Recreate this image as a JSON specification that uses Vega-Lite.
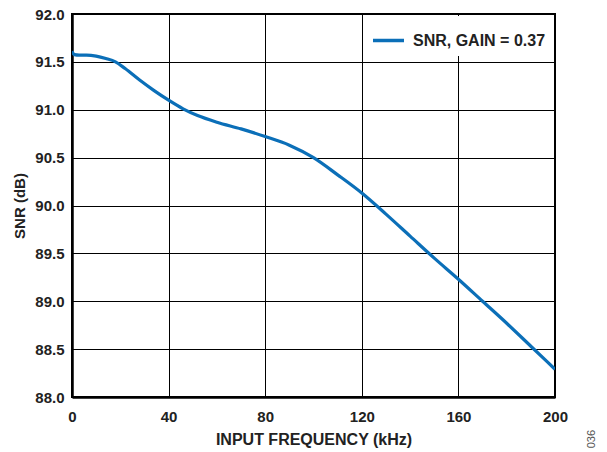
{
  "$schema": "https://vega.github.io/schema/vega-lite/v6.json",
  "width": 483,
  "height": 383,
  "autosize": {"type": "none"},
  "padding": {"left": 72, "top": 14, "right": 52, "bottom": 55},
  "background": "white",
  "config": {
    "font": "Liberation Sans",
    "view": {"stroke": "#000000", "strokeWidth": 2},
    "axis": {
      "labelFont": "Liberation Sans",
      "labelFontWeight": "bold",
      "labelFontSize": 15,
      "labelColor": "#222222",
      "titleFont": "Liberation Sans",
      "titleFontWeight": "bold",
      "titleColor": "#222222",
      "gridColor": "#000000",
      "gridOpacity": 1,
      "gridWidth": 1,
      "domainColor": "#000000",
      "domainWidth": 2.5,
      "ticks": false
    }
  },
  "data": {
    "values": [
      {"f": 0, "snr": 91.61, "s": "SNR, GAIN = 0.37"},
      {"f": 1, "snr": 91.575, "s": "SNR, GAIN = 0.37"},
      {"f": 3, "snr": 91.57, "s": "SNR, GAIN = 0.37"},
      {"f": 6, "snr": 91.57, "s": "SNR, GAIN = 0.37"},
      {"f": 10, "snr": 91.56, "s": "SNR, GAIN = 0.37"},
      {"f": 14, "snr": 91.535, "s": "SNR, GAIN = 0.37"},
      {"f": 18, "snr": 91.5, "s": "SNR, GAIN = 0.37"},
      {"f": 22, "snr": 91.43, "s": "SNR, GAIN = 0.37"},
      {"f": 28, "snr": 91.31, "s": "SNR, GAIN = 0.37"},
      {"f": 34, "snr": 91.2, "s": "SNR, GAIN = 0.37"},
      {"f": 40, "snr": 91.1, "s": "SNR, GAIN = 0.37"},
      {"f": 46, "snr": 91.01, "s": "SNR, GAIN = 0.37"},
      {"f": 52, "snr": 90.94, "s": "SNR, GAIN = 0.37"},
      {"f": 60, "snr": 90.87, "s": "SNR, GAIN = 0.37"},
      {"f": 70, "snr": 90.8, "s": "SNR, GAIN = 0.37"},
      {"f": 80, "snr": 90.72, "s": "SNR, GAIN = 0.37"},
      {"f": 90, "snr": 90.63, "s": "SNR, GAIN = 0.37"},
      {"f": 100, "snr": 90.5, "s": "SNR, GAIN = 0.37"},
      {"f": 110, "snr": 90.32, "s": "SNR, GAIN = 0.37"},
      {"f": 120, "snr": 90.13, "s": "SNR, GAIN = 0.37"},
      {"f": 130, "snr": 89.91, "s": "SNR, GAIN = 0.37"},
      {"f": 140, "snr": 89.68, "s": "SNR, GAIN = 0.37"},
      {"f": 150, "snr": 89.45, "s": "SNR, GAIN = 0.37"},
      {"f": 160, "snr": 89.23, "s": "SNR, GAIN = 0.37"},
      {"f": 170, "snr": 89.0, "s": "SNR, GAIN = 0.37"},
      {"f": 180, "snr": 88.77, "s": "SNR, GAIN = 0.37"},
      {"f": 190, "snr": 88.53, "s": "SNR, GAIN = 0.37"},
      {"f": 200, "snr": 88.29, "s": "SNR, GAIN = 0.37"}
    ]
  },
  "layer": [
    {
      "mark": {"type": "line", "interpolate": "monotone", "strokeWidth": 3.2, "clip": true},
      "encoding": {
        "x": {
          "field": "f", "type": "quantitative",
          "scale": {"domain": [0, 200], "nice": false},
          "axis": {"values": [0, 40, 80, 120, 160, 200], "title": "INPUT FREQUENCY (kHz)", "titleFontSize": 16, "labelPadding": 12, "titlePadding": 7, "labelFlush": false}
        },
        "y": {
          "field": "snr", "type": "quantitative",
          "scale": {"domain": [88, 92], "nice": false, "zero": false},
          "axis": {"values": [88, 88.5, 89, 89.5, 90, 90.5, 91, 91.5, 92], "format": ".1f", "title": "SNR (dB)", "titleFontSize": 15, "labelPadding": 8, "titlePadding": 7, "labelFlush": false}
        },
        "color": {
          "field": "s", "type": "nominal",
          "scale": {"range": ["#0b6fb8"]},
          "legend": {
            "title": null,
            "orient": "top-right",
            "offset": 2,
            "padding": 7,
            "fillColor": "white",
            "symbolType": "stroke",
            "symbolSize": 961,
            "symbolStrokeWidth": 3.5,
            "labelFont": "Liberation Sans",
            "labelFontWeight": "bold",
            "labelFontSize": 16,
            "labelColor": "#222222",
            "labelOffset": 7
          }
        }
      }
    },
    {
      "data": {"values": [{"f": 215.5, "snr": 87.56, "t": "036"}]},
      "mark": {"type": "text", "angle": 270, "fontSize": 11, "color": "#555555", "font": "Liberation Sans", "clip": false},
      "encoding": {
        "x": {"field": "f", "type": "quantitative"},
        "y": {"field": "snr", "type": "quantitative"},
        "text": {"field": "t"}
      }
    }
  ]
}
